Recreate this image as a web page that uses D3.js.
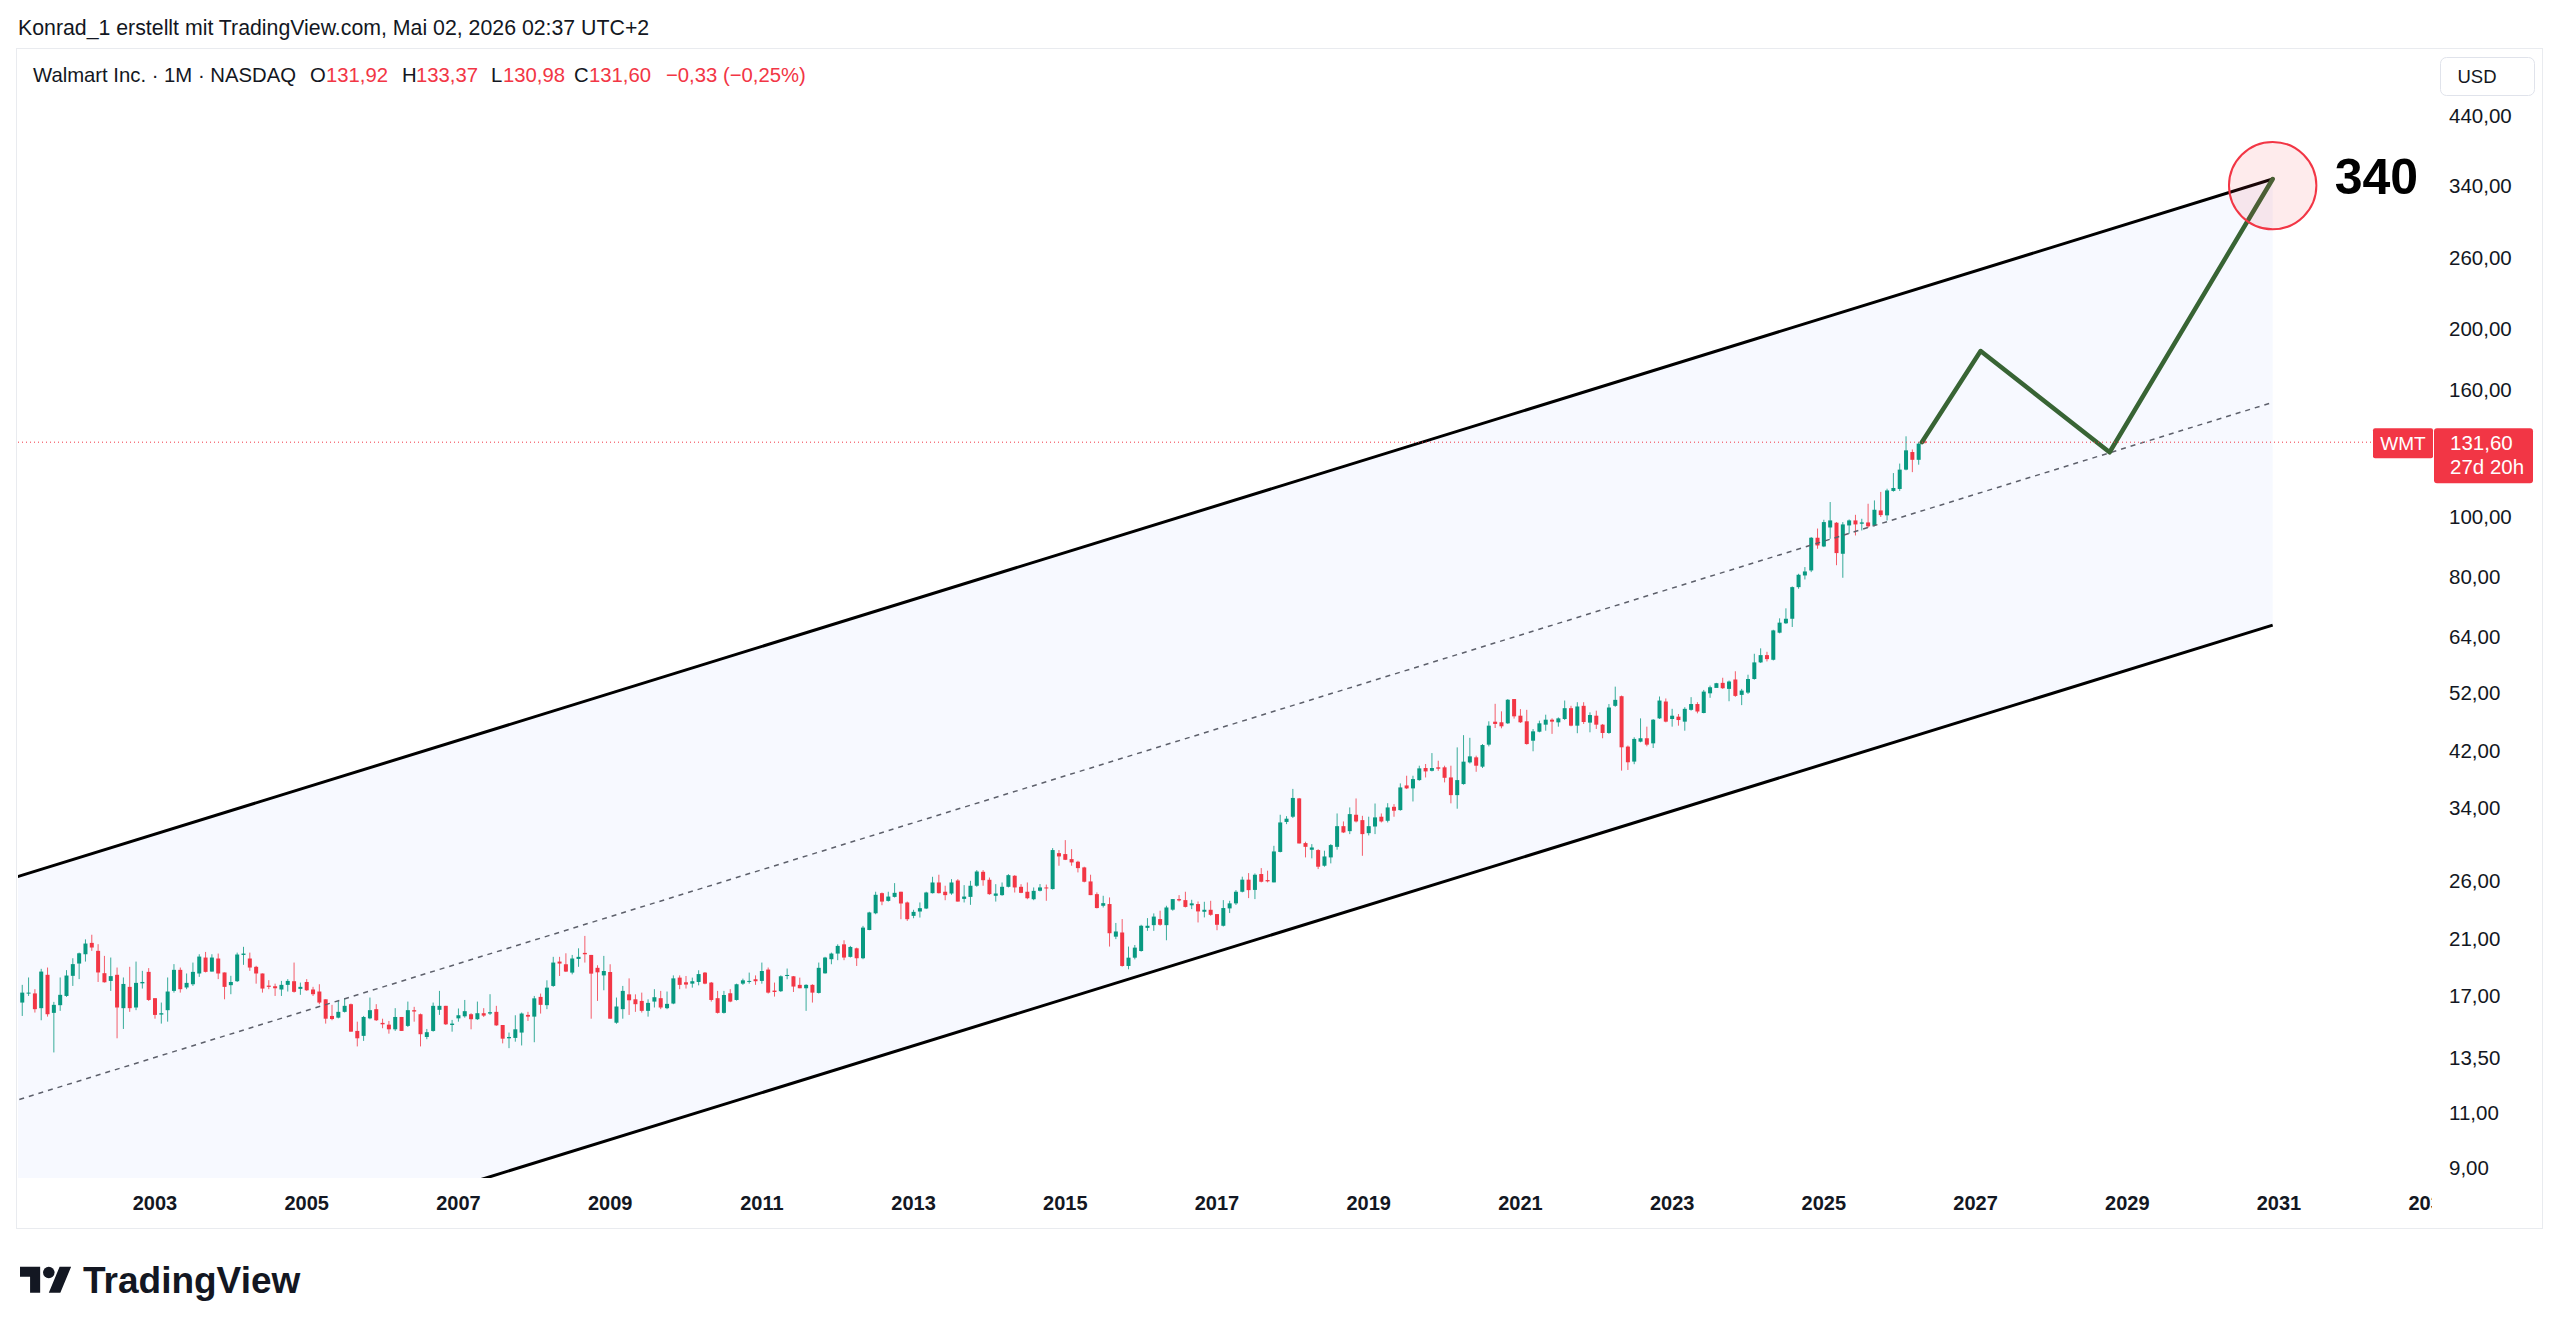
<!DOCTYPE html>
<html>
<head>
<meta charset="utf-8">
<script src="https://cdn.jsdelivr.net/npm/d3@7"></script>
<style>
  body { margin: 0; background: #fff; }
</style>
</head>
<body>
<div id="main"></div>
<script>
// Monthly WMT candles (split adjusted), first visible candle = Apr 2001
const firstMonth = "2001-04-01";

const opens = [
  16.56,17.13,17.13,16.22,18.35,15.94,16.40,16.97,18.28,
  19.13,19.80,20.65,20.05,18.46,17.94,18.35,16.22,17.55,16.26,17.78,18.55,
  16.83,15.84,16.10,17.29,18.69,17.51,17.72,18.44,19.56,18.57,19.49,18.51,
  17.66,17.92,19.75,19.49,18.90,18.44,17.63,17.59,17.38,17.68,17.92,17.42,
  17.87,17.38,17.25,16.76,15.76,15.66,16.00,16.46,14.91,14.64,15.62,16.16,
  15.36,15.26,15.00,15.70,15.19,16.10,15.86,14.58,14.91,16.12,16.36,15.24,
  15.62,15.74,15.86,15.57,15.92,15.90,16.00,15.24,14.51,14.53,14.82,15.82,
  15.72,16.91,16.40,17.61,19.27,19.08,18.50,19.46,19.90,19.75,18.83,18.31,
  18.54,15.37,16.16,17.07,16.76,16.66,16.06,16.62,16.83,16.22,16.50,18.16,
  17.85,17.76,17.87,18.50,17.83,16.83,15.94,17.14,16.72,17.76,17.90,18.05,
  17.94,18.71,17.31,17.27,18.27,18.25,17.68,17.46,17.68,17.16,18.45,19.44,
  19.85,20.54,19.61,20.24,19.51,21.66,23.04,24.82,24.12,24.48,24.95,23.98,
  22.82,23.19,23.45,24.82,25.82,24.95,24.79,26.01,24.30,24.48,25.51,26.86,
  26.08,24.58,24.64,25.41,26.47,25.41,24.95,24.27,25.04,25.35,25.20,28.78,
  28.68,28.15,27.88,27.30,25.92,24.73,23.69,23.84,21.13,21.46,18.96,19.55,
  20.04,21.83,22.05,22.55,22.05,23.35,24.28,24.19,23.73,23.84,23.17,23.34,
  22.97,22.00,23.46,23.90,24.95,26.09,25.12,26.64,26.05,25.83,28.91,32.30,
  32.93,35.24,29.87,29.14,29.11,27.47,28.33,29.46,31.80,31.22,33.17,32.52,
  30.99,31.76,32.93,32.44,34.16,33.75,36.97,36.57,37.71,39.43,39.03,39.53,
  39.53,38.08,35.67,37.16,40.26,41.02,39.63,42.99,46.80,46.70,46.52,50.89,
  47.85,46.87,43.62,45.10,46.29,47.15,46.69,47.27,49.20,46.12,49.63,46.64,
  47.85,46.29,44.89,49.63,51.43,42.68,40.38,43.47,44.02,43.20,47.38,50.43,
  47.27,47.68,46.81,48.90,49.96,48.33,51.98,53.03,54.03,52.84,54.71,51.68,
  52.12,54.81,58.28,59.87,58.85,65.05,67.35,68.49,76.99,80.39,81.89,92.42,
  89.49,96.00,97.70,87.10,96.73,98.54,97.33,97.80,96.70,102.25,100.40,109.90,
  110.70,118.90,126.90,123.30,131.92
];

const highs = [
  17.68,18.17,17.40,18.76,18.85,16.60,18.17,18.67,19.51,
  19.92,20.92,21.28,20.55,19.68,19.56,18.85,18.17,18.90,19.27,18.62,18.81,
  16.83,16.56,18.17,19.09,18.85,18.44,19.20,19.80,19.97,19.80,19.85,18.51,
  18.28,19.92,20.35,19.92,18.97,18.44,17.99,17.76,17.94,18.06,19.20,17.83,
  18.06,17.55,17.72,16.76,16.42,16.70,16.83,16.50,15.43,15.76,16.87,16.46,
  15.60,15.47,16.22,15.70,16.62,16.30,15.90,15.02,16.56,17.29,16.36,15.53,
  16.20,16.72,15.92,16.62,16.22,17.08,16.36,15.24,14.82,15.80,15.96,16.00,
  16.97,17.12,17.98,19.61,19.61,19.87,19.75,20.24,21.19,19.75,19.01,19.68,
  19.08,16.87,17.61,18.11,17.07,17.18,16.76,17.40,17.29,17.25,18.31,18.31,
  18.27,18.16,18.66,18.54,17.87,17.29,17.29,17.40,17.76,18.09,18.50,18.31,
  19.20,18.85,17.83,18.31,18.78,18.27,18.16,17.72,17.72,19.20,19.61,19.92,
  20.54,20.85,20.42,20.29,21.99,23.17,24.95,24.88,24.95,25.76,24.95,24.06,
  23.34,23.98,24.95,26.37,26.57,25.51,26.14,26.14,25.57,25.98,27.03,27.03,
  26.30,25.66,25.82,26.63,26.53,25.66,25.82,25.35,25.67,25.62,29.32,29.11,
  30.20,29.21,27.98,27.37,26.57,24.89,24.58,24.43,22.23,22.55,20.37,20.49,
  22.08,22.63,23.03,23.26,23.69,24.28,24.64,24.95,24.22,24.07,24.04,24.13,
  22.97,24.19,24.13,25.10,26.38,26.73,26.70,27.23,26.97,29.57,33.17,33.00,
  36.50,35.30,30.02,29.76,29.21,29.04,29.76,33.33,32.36,34.08,35.23,33.04,
  32.93,34.58,33.33,34.62,34.50,37.25,38.32,38.32,39.77,40.02,41.67,40.51,
  39.77,39.77,42.56,44.53,44.09,41.27,43.09,46.87,50.00,48.63,50.89,50.89,
  49.03,48.90,45.55,46.98,48.03,47.38,47.55,50.61,49.63,50.30,50.30,48.45,
  48.75,46.41,49.96,53.28,51.55,42.85,44.18,47.38,45.95,47.27,51.37,51.00,
  49.08,48.15,49.38,51.25,50.30,52.64,53.49,54.03,55.06,54.50,56.40,52.84,
  55.68,60.17,61.39,60.61,65.76,68.60,71.18,77.18,80.89,82.92,92.65,95.62,
  98.78,105.47,97.93,97.93,98.90,100.60,99.14,104.80,106.10,109.50,110.80,117.40,
  121.60,134.50,128.10,131.70,133.37
];

const lows = [
  15.76,16.97,15.96,15.51,15.72,13.77,16.06,16.91,17.61,
  18.06,19.27,20.05,17.87,17.83,17.29,14.51,15.02,16.00,16.10,17.44,16.66,
  15.60,15.32,15.43,17.18,17.18,17.40,17.61,18.21,18.51,18.57,18.06,16.76,
  17.08,17.87,19.04,18.62,17.76,17.18,17.40,16.97,16.97,17.25,17.18,17.04,
  17.29,16.97,16.46,15.32,15.51,15.62,15.96,14.87,14.08,14.37,15.57,15.47,
  15.06,14.76,14.91,14.91,15.13,15.43,14.08,14.46,14.87,15.82,15.24,14.87,
  15.43,15.66,15.00,15.53,15.70,15.82,15.19,14.24,13.99,14.33,14.13,15.47,
  14.30,15.90,16.16,17.55,18.27,18.54,18.38,18.90,19.20,15.60,16.66,17.33,
  15.60,15.31,15.60,15.82,16.00,15.96,15.72,16.26,16.16,16.16,16.46,17.40,
  17.44,17.50,17.65,17.72,16.62,15.90,15.90,16.58,16.68,17.68,17.76,17.68,
  17.76,17.12,16.93,17.22,18.05,17.22,17.46,16.06,16.56,17.12,18.43,19.08,
  19.37,19.37,19.56,18.96,19.44,21.64,22.96,23.74,24.06,24.42,22.54,22.40,
  22.62,22.68,23.40,24.79,24.79,24.18,24.67,24.06,23.98,23.77,25.41,25.51,
  24.67,24.06,24.58,25.35,24.88,24.82,24.27,24.18,24.98,24.13,25.15,27.47,
  28.05,27.47,26.80,25.83,24.64,23.46,23.54,20.37,20.94,18.91,18.73,19.43,
  19.99,21.59,21.59,22.00,20.85,23.26,24.07,23.54,23.40,22.27,22.69,22.83,
  21.64,21.94,23.06,23.76,24.89,24.37,24.28,25.83,25.83,25.83,28.86,32.04,
  32.77,29.83,28.33,28.23,27.13,27.37,27.71,29.15,31.00,30.88,32.24,28.50,
  30.73,30.88,32.24,32.24,32.93,33.67,36.48,34.84,37.62,38.08,38.94,39.03,
  37.39,34.60,33.92,37.07,40.10,38.89,39.43,42.72,45.72,45.67,46.41,47.34,
  46.58,42.99,41.95,45.00,45.27,44.74,45.95,47.09,46.01,44.85,46.41,45.00,
  45.56,44.02,44.74,49.45,39.05,39.15,39.99,43.36,42.73,42.46,47.27,46.69,
  45.95,46.12,45.27,48.75,48.27,48.27,51.12,53.36,52.84,50.48,51.31,49.76,
  51.87,54.67,58.14,58.49,58.70,64.89,67.18,66.44,76.52,79.20,81.39,88.72,
  89.27,92.08,83.49,79.70,93.79,93.20,94.94,95.90,96.40,99.80,98.50,109.60,
  109.90,118.60,117.80,121.10,130.98
];

const closes = [
  17.18,17.18,16.16,18.57,15.86,16.42,17.04,18.30,19.09,
  19.87,20.60,20.30,18.51,17.85,18.26,16.26,17.74,16.22,17.81,17.87,16.72,
  15.82,15.92,17.25,18.69,17.40,17.81,18.55,19.63,18.55,19.56,18.44,17.55,
  17.87,19.78,19.85,18.85,18.44,17.44,17.55,17.46,17.68,17.94,17.23,17.55,
  17.33,17.08,16.56,15.60,15.58,16.00,16.36,14.87,14.51,15.70,16.10,15.51,
  15.28,15.00,15.70,14.91,16.10,16.02,14.73,14.84,16.36,16.36,15.28,15.32,
  15.80,16.04,15.57,15.92,15.78,15.98,15.22,14.49,14.58,15.00,15.90,15.72,
  16.82,16.42,17.50,19.20,19.13,18.57,19.49,19.61,19.80,18.43,18.52,18.61,
  15.60,16.32,17.29,16.70,16.46,16.06,16.54,16.89,16.26,16.48,18.11,17.68,
  17.70,17.92,18.40,17.76,16.72,15.94,17.03,16.62,17.72,17.98,17.94,17.92,
  18.61,17.18,17.22,18.25,18.34,17.57,17.46,17.68,17.18,18.83,19.56,19.85,
  20.42,19.56,20.34,19.51,21.85,23.11,24.67,24.06,24.51,24.85,23.89,22.54,
  23.16,23.48,24.88,25.82,24.82,24.64,25.82,24.06,24.51,25.51,26.89,26.04,
  24.73,24.79,25.41,26.53,25.35,24.85,24.36,25.03,25.35,25.30,29.11,28.43,
  28.08,27.81,27.23,25.89,24.64,23.49,23.92,21.40,21.54,18.96,19.55,20.29,
  22.00,22.00,22.76,22.08,23.54,24.28,24.16,23.59,23.90,23.20,23.34,22.91,
  22.08,23.49,23.90,24.95,26.09,25.10,26.57,25.89,25.93,28.96,32.24,32.69,
  35.30,29.83,29.46,29.39,27.37,28.43,29.65,31.80,31.07,33.25,32.36,30.88,
  31.80,32.85,32.36,34.08,33.67,36.70,36.57,37.85,39.38,38.94,39.43,39.33,
  38.03,35.67,37.71,40.37,41.17,39.77,42.93,46.12,46.41,46.01,50.76,47.74,
  46.70,43.09,45.16,46.52,47.15,46.81,47.38,49.20,46.12,49.51,46.75,47.97,
  46.29,44.89,49.32,50.74,42.57,40.28,43.91,44.02,42.99,47.15,50.61,46.81,
  47.85,47.09,49.08,49.96,48.60,52.31,53.16,53.96,52.97,54.30,51.49,52.51,
  54.81,58.28,59.87,58.99,65.60,67.51,68.49,76.99,80.59,81.59,92.42,89.82,
  97.93,98.54,87.32,97.09,98.54,97.09,97.82,96.40,102.50,100.50,110.10,111.10,
  118.90,127.70,123.30,130.90,131.60
];

// axes
const yTickValues = [440, 340, 260, 200, 160, 100, 80, 64, 52, 42, 34, 26, 21, 17, 13.5, 11, 9];
const yearTicks = [2003, 2005, 2007, 2009, 2011, 2013, 2015, 2017, 2019, 2021, 2023, 2025, 2027, 2029, 2031, 2033];

// parallel channel drawing (log scale)
const channelDates = ["2000-11-01", "2030-12-01"];
const channelUpper = [25.58, 348.4];
const channelMiddle = [11.20, 152.5];
const channelLower = [4.91, 66.88];

// projection path + target
const projDates = ["2026-04-16", "2027-01-25", "2028-10-07", "2030-12-01"];
const projPrices = [131.6, 184.4, 126.8, 348.4];
const targetDate = "2030-12-01";
const targetPrice = 340;
const lastPrice = 131.60;

const W = 2560, H = 1334;
const plot = {left: 18, right: 2432, top: 49, bottom: 1178};
const UP = "#089981", DOWN = "#f23645", INK = "#131722";

const parse = d3.timeParse("%Y-%m-%d");
const monthPos = d => (d.getFullYear() - 2000) * 12 + d.getMonth() + (d.getDate() - 1) / 30;
const fmt = d3.formatLocale({decimal: ",", thousands: ".", grouping: [3], currency: ["", ""]}).format(".2f");

const x = d3.scaleLinear().domain([36, 372]).range([155, 2279]);
const y = d3.scaleLog().domain([9, 440]).range([1167.4, 115.9]);

const start = parse(firstMonth);
const months = d3.timeMonth.range(start, d3.timeMonth.offset(start, closes.length));
const candles = months.map((d, i) => ({m: monthPos(d), o: opens[i], h: highs[i], l: lows[i], c: closes[i]}));

const svg = d3.select("#main").append("svg")
    .attr("width", W).attr("height", H)
    .style("font-family", "'Liberation Sans', Arial, sans-serif");

svg.append("rect").attr("width", W).attr("height", H).attr("fill", "#fff");

const defs = svg.append("defs");
defs.append("clipPath").attr("id", "plotClip").append("rect")
    .attr("x", plot.left).attr("y", plot.top)
    .attr("width", plot.right - plot.left).attr("height", plot.bottom - plot.top);
defs.append("clipPath").attr("id", "xAxisClip").append("rect")
    .attr("x", plot.left).attr("y", plot.bottom)
    .attr("width", plot.right - plot.left).attr("height", 50);

// header
svg.append("text").attr("x", 18).attr("y", 35)
    .attr("font-size", 21.3).attr("fill", INK)
    .text("Konrad_1 erstellt mit TradingView.com, Mai 02, 2026 02:37 UTC+2");

// pane frame
svg.append("rect").attr("x", 16.5).attr("y", 48.5).attr("width", 2526).attr("height", 1180)
    .attr("fill", "none").attr("stroke", "#e9ebef");

const g = svg.append("g").attr("clip-path", "url(#plotClip)");

// channel fill
const cm = channelDates.map(s => monthPos(parse(s)));
const fillPts = [
  [x(cm[0]), y(channelUpper[0])], [x(cm[1]), y(channelUpper[1])],
  [x(cm[1]), y(channelLower[1])], [x(cm[0]), y(channelLower[0])]
];
g.append("path").attr("d", d3.line()(fillPts) + "Z").attr("fill", "#f7f9ff");

// candles
const cg = g.append("g");
const bar = cg.selectAll("g").data(candles).enter().append("g");
bar.append("line")
    .attr("x1", d => x(d.m)).attr("x2", d => x(d.m))
    .attr("y1", d => y(d.h)).attr("y2", d => y(d.l))
    .attr("stroke", d => d.c >= d.o ? UP : DOWN).attr("stroke-width", 1)
    .attr("stroke-opacity", 0.8);
bar.append("rect")
    .attr("x", d => x(d.m) - 2).attr("width", 4)
    .attr("y", d => y(Math.max(d.o, d.c)))
    .attr("height", d => Math.max(1, y(Math.min(d.o, d.c)) - y(Math.max(d.o, d.c))))
    .attr("fill", d => d.c >= d.o ? UP : DOWN);

// channel lines
function chLine(vals, stroke, width, dash) {
  g.append("line")
      .attr("x1", x(cm[0])).attr("y1", y(vals[0]))
      .attr("x2", x(cm[1])).attr("y2", y(vals[1]))
      .attr("stroke", stroke).attr("stroke-width", width)
      .attr("stroke-dasharray", dash);
}
chLine(channelMiddle, "#5d606b", 1.5, "5,5");
chLine(channelUpper, "#000", 3, null);
chLine(channelLower, "#000", 3, null);

// last price line
const yp = y(lastPrice);
svg.append("line").attr("x1", plot.left).attr("x2", 2373).attr("y1", yp).attr("y2", yp)
    .attr("stroke", DOWN).attr("stroke-width", 1).attr("stroke-dasharray", "1,3");

// projection
const projPts = projDates.map((s, i) => [x(monthPos(parse(s))), y(projPrices[i])]);
g.append("path").attr("d", d3.line()(projPts))
    .attr("fill", "none").attr("stroke", "#386434").attr("stroke-width", 4.5)
    .attr("stroke-linejoin", "round").attr("stroke-linecap", "round");

// target circle + label
const tx = x(monthPos(parse(targetDate))), ty = y(targetPrice);
svg.append("circle").attr("cx", tx).attr("cy", ty).attr("r", 43.7)
    .attr("fill", "rgba(242,54,69,0.1)").attr("stroke", DOWN).attr("stroke-width", 2);
svg.append("text").attr("x", tx + 62).attr("y", ty + 8).attr("font-size", 50)
    .attr("font-weight", "bold").attr("fill", "#000").text(targetPrice);

// legend
const legend = svg.append("text").attr("y", 82).attr("font-size", 20.3).attr("fill", INK);
const legendParts = [
  [33, "Walmart Inc. · 1M · NASDAQ", INK],
  [310, "O", INK], [326, fmt(opens[opens.length - 1]), DOWN],
  [402, "H", INK], [416, fmt(highs[highs.length - 1]), DOWN],
  [491, "L", INK], [503, fmt(lows[lows.length - 1]), DOWN],
  [574, "C", INK], [589, fmt(closes[closes.length - 1]), DOWN],
  [666, "−0,33 (−0,25%)", DOWN]
];
legendParts.forEach(p => legend.append("tspan").attr("x", p[0]).attr("fill", p[2]).text(p[1]));

// x axis
svg.append("g").attr("clip-path", "url(#xAxisClip)")
  .selectAll("text").data(yearTicks).enter().append("text")
    .attr("x", d => x((d - 2000) * 12)).attr("y", 1203).attr("dy", "0.35em")
    .attr("text-anchor", "middle").attr("font-size", 20).attr("font-weight", "bold")
    .attr("fill", INK).text(d => d);

// y axis
svg.append("g").selectAll("text").data(yTickValues).enter().append("text")
    .attr("x", 2449).attr("y", d => y(d)).attr("dy", "0.35em")
    .attr("font-size", 20.5).attr("fill", INK).text(d => fmt(d));

// USD button
svg.append("rect").attr("x", 2440.5).attr("y", 57.5).attr("width", 94).attr("height", 38).attr("rx", 6)
    .attr("fill", "#fff").attr("stroke", "#e0e3eb");
svg.append("text").attr("x", 2477).attr("y", 77).attr("dy", "0.35em").attr("text-anchor", "middle")
    .attr("font-size", 18.5).attr("fill", INK).text("USD");

// last price labels
svg.append("rect").attr("x", 2373).attr("y", yp - 14).attr("width", 60).attr("height", 30).attr("rx", 2)
    .attr("fill", DOWN);
svg.append("text").attr("x", 2403).attr("y", yp + 1).attr("dy", "0.35em").attr("text-anchor", "middle")
    .attr("font-size", 19).attr("fill", "#fff").text("WMT");
svg.append("rect").attr("x", 2434).attr("y", yp - 14).attr("width", 99).attr("height", 55).attr("rx", 3)
    .attr("fill", DOWN);
svg.append("text").attr("x", 2450).attr("y", yp + 1).attr("dy", "0.35em")
    .attr("font-size", 20.5).attr("fill", "#fff").text(fmt(lastPrice));
svg.append("text").attr("x", 2450).attr("y", yp + 25).attr("dy", "0.35em")
    .attr("font-size", 20.5).attr("fill", "#fff").text("27d 20h");

// TradingView logo
const logo = svg.append("g").attr("transform", "translate(20,1261) scale(1.44)").attr("fill", INK);
logo.append("path").attr("d", "M14 22H7V11H0V4h14v18zM28 22h-8l7.5-18h8L28 22z");
logo.append("circle").attr("cx", 20).attr("cy", 8).attr("r", 4);
svg.append("text").attr("x", 83).attr("y", 1293).attr("font-size", 37).attr("font-weight", "bold")
    .attr("fill", INK).text("TradingView");
</script>
</body>
</html>
